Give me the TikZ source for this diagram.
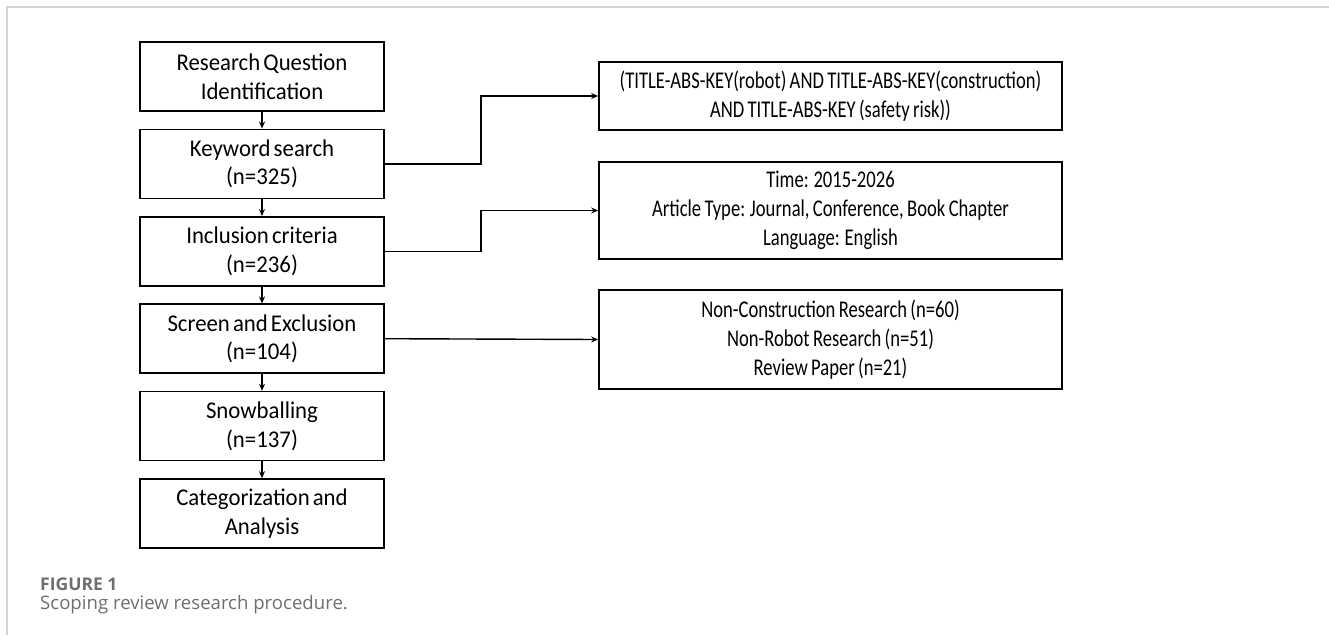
\documentclass[tikz,border=0pt]{standalone}
\usepackage{fontspec}
\setmainfont{Carlito}
\newfontfamily\stagefont{Carlito}[FakeStretch=0.95, WordSpace=0.6]
\newfontfamily\detailfont{Carlito}[FakeStretch=0.775, WordSpace=0.8]
\newfontfamily\capfont{Open Sans}
\usetikzlibrary{arrows.meta}
\definecolor{framegray}{HTML}{D4D4D4}
\definecolor{capgray}{HTML}{6E6E6E}
\begin{document}
\begin{tikzpicture}[x=1pt, y=-1pt, >={Stealth[length=7pt, width=6pt]},
    stage box/.style={draw, line width=1.6pt, minimum width=244pt, minimum height=69pt,
      align=center, inner sep=0pt, font=\stagefont\fontsize{24}{28.7}\selectfont},
    detail box/.style={draw, line width=1.6pt, minimum width=463pt,
      align=center, inner sep=0pt, font=\detailfont\fontsize{24}{28.7}\selectfont},
    link/.style={->, line width=1.4pt},
    caption text/.style={anchor=base west, inner sep=0pt, text=capgray}]

    \useasboundingbox (0,0) rectangle (1329,635);
    \draw [framegray, line width=1.5pt] (7,635) -- (7,7) -- (1329,7);

    % steps
    \foreach \t [count=\i] in {{Research Question\\Identification}, {Keyword search\\(n=325)},
        {Inclusion criteria\\(n=236)}, {Screen and Exclusion\\(n=104)},
        {Snowballing\\(n=137)}, {Categorization and\\Analysis}}
    \node [stage box] (stage-\i) at (262, {76.5+87.4*(\i-1)}) {\t};

    \foreach \i/\j in {1/2,2/3,3/4,4/5,5/6}
    \draw [link] (stage-\i) -- (stage-\j);

    % details
    \node [detail box, minimum height=68pt] (detail-1) at (830.5,96)
      {(TITLE-ABS-KEY(robot) AND TITLE-ABS-KEY(construction)\\AND TITLE-ABS-KEY (safety risk))};
    \node [detail box, minimum height=97pt] (detail-2) at (830.5,210.5)
      {Time: 2015-2026\\Article Type: Journal, Conference, Book Chapter\\Language: English};
    \node [detail box, minimum height=99pt] (detail-3) at (830.5,339.5)
      {Non-Construction Research (n=60)\\Non-Robot Research (n=51)\\Review Paper (n=21)};

    \draw [link] (stage-2.east) -- ++(96,0) |- (detail-1.west);
    \draw [link] (stage-3.east) -- ++(96,0) |- (detail-2.west);
    \draw [link] (stage-4.east) -- (detail-3.west);

    % caption
    \node [caption text, font=\capfont\bfseries\fontsize{17.5}{20}\selectfont] (fig-label) at (40,590) {FIGURE 1};
    \node [caption text, font=\capfont\fontsize{18.6}{22}\selectfont] (fig-caption) at (40,609) {Scoping review research procedure.};
\end{tikzpicture}
\end{document}
